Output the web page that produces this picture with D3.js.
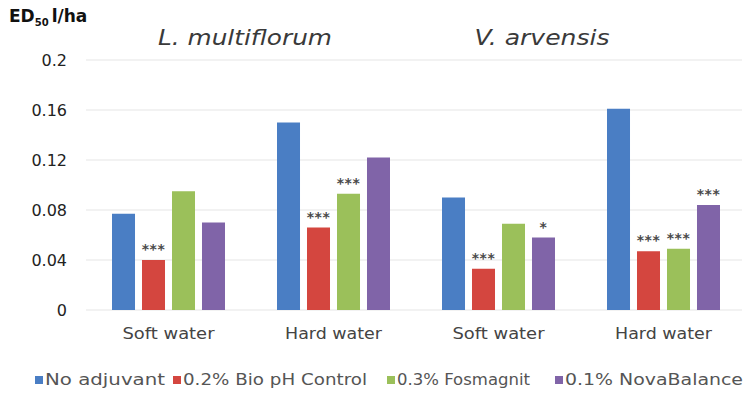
<!DOCTYPE html>
<html>
<head>
<meta charset="utf-8">
<script src="https://cdn.jsdelivr.net/npm/d3@7"></script>
<style>
  html, body { margin: 0; padding: 0; background: #fff; }
  svg { display: block; font-family: "DejaVu Sans", sans-serif; }
</style>
</head>
<body>
<svg id="chart" width="745" height="396"></svg>
<script>
// Groups along the x axis (species × water hardness)
const groups = ["L. multiflorum|Soft water", "L. multiflorum|Hard water", "V. arvensis|Soft water", "V. arvensis|Hard water"];
const groupLabels = ["Soft water", "Hard water", "Soft water", "Hard water"];
const species = ["L. multiflorum", "V. arvensis"];

// Adjuvant treatments
const series = ["No adjuvant", "0.2% Bio pH Control", "0.3% Fosmagnit", "0.1% NovaBalance"];
const colors = ["#4a7ec4", "#d4463f", "#9bc05a", "#8064a8"];

// ED50 values (l/ha), one array per treatment, in group order
const noAdjuvant   = [0.077, 0.150, 0.090, 0.161];
const bioPH        = [0.040, 0.066, 0.033, 0.047];
const fosmagnit    = [0.095, 0.093, 0.069, 0.049];
const novaBalance  = [0.070, 0.122, 0.058, 0.084];
const values = [noAdjuvant, bioPH, fosmagnit, novaBalance];

// Significance markers over each bar ("" = none)
const sigNoAdjuvant  = ["", "", "", ""];
const sigBioPH       = ["***", "***", "***", "***"];
const sigFosmagnit   = ["", "***", "", "***"];
const sigNovaBalance = ["", "", "*", "***"];
const signif = [sigNoAdjuvant, sigBioPH, sigFosmagnit, sigNovaBalance];

const yTicks = [0, 0.04, 0.08, 0.12, 0.16, 0.2];
const yTickLabels = ["0", "0.04", "0.08", "0.12", "0.16", "0.2"];

// Wide geometric lettering: stretch text runs to these widths
const speciesWidths = [174, 135];
const groupLabelWidths = [92, 97, 92, 97];
const legendWidths = [120, 184, 133, 178];

const svg = d3.select("#chart");

const x0 = d3.scaleBand().domain(groups).range([86, 746]).padding(0);
const x1 = d3.scaleBand().domain(series).range([26, 139]).paddingInner(0.233).paddingOuter(0);
const y = d3.scaleLinear().domain([0, 0.2]).range([310, 60]);

// Horizontal gridlines
svg.append("g")
  .selectAll("line")
  .data(yTicks)
  .join("line")
  .attr("x1", 86).attr("x2", 742)
  .attr("y1", d => y(d)).attr("y2", d => y(d))
  .attr("stroke", "#e6e6e6").attr("stroke-width", 1.2);

// Y axis tick labels
const yAxis = d3.axisLeft(y).tickValues(yTicks)
  .tickFormat((d, i) => yTickLabels[i]).tickSize(0).tickPadding(0);
const yg = svg.append("g").attr("transform", "translate(67,0)").call(yAxis);
yg.select(".domain").remove();
yg.selectAll("text")
  .attr("font-family", "DejaVu Sans, sans-serif")
  .attr("font-size", 16).attr("fill", "#222");

// Y axis title: ED50 l/ha
const yt = svg.append("text").attr("x", 9).attr("y", 22)
  .attr("font-size", 17).attr("font-weight", "bold").attr("fill", "#111");
yt.append("tspan").text("ED");
yt.append("tspan").attr("font-size", 10).attr("dy", 4).text("50");
yt.append("tspan").attr("dy", -4).attr("dx", 3).text("l/ha");

// Bars
const rows = [];
groups.forEach((g, gi) => {
  series.forEach((s, si) => {
    rows.push({ g, s, si, v: values[si][gi], sig: signif[si][gi] });
  });
});

const gBars = svg.append("g");
gBars.selectAll("rect")
  .data(rows)
  .join("rect")
  .attr("x", d => x0(d.g) + x1(d.s))
  .attr("width", x1.bandwidth())
  .attr("y", d => y(d.v))
  .attr("height", d => y(0) - y(d.v))
  .attr("fill", d => colors[d.si]);

// Significance stars
gBars.selectAll("text")
  .data(rows.filter(d => d.sig))
  .join("text")
  .attr("x", d => x0(d.g) + x1(d.s) + x1.bandwidth() / 2)
  .attr("y", d => y(d.v) - 6)
  .attr("text-anchor", "middle")
  .attr("font-size", 14)
  .attr("font-weight", "bold")
  .attr("letter-spacing", 0.5)
  .attr("fill", "#4a4a4a")
  .text(d => d.sig);

// Group labels under the bars
const xAxis = d3.axisBottom(x0).tickSize(0).tickPadding(0)
  .tickFormat((d, i) => groupLabels[i]);
const xg = svg.append("g").attr("transform", "translate(0,328)").call(xAxis);
xg.select(".domain").remove();
xg.selectAll("text")
  .attr("font-family", "DejaVu Sans, sans-serif")
  .attr("font-size", 15).attr("fill", "#444")
  .attr("dy", "0.71em")
  .attr("textLength", (d, i) => groupLabelWidths[i])
  .attr("lengthAdjust", "spacingAndGlyphs");

// Species titles
const titleX = [245, 542];
svg.append("g").selectAll("text")
  .data(species)
  .join("text")
  .attr("x", (d, i) => titleX[i] - speciesWidths[i] / 2)
  .attr("y", 45)
  .attr("font-size", 22)
  .attr("font-style", "italic")
  .attr("fill", "#3a3a3a")
  .attr("textLength", (d, i) => speciesWidths[i])
  .attr("lengthAdjust", "spacingAndGlyphs")
  .text(d => d);

// Legend
const legendX = [35, 173, 387, 555];
const lg = svg.append("g").selectAll("g")
  .data(series)
  .join("g")
  .attr("transform", (d, i) => `translate(${legendX[i]},380)`);
lg.append("rect").attr("x", 0).attr("y", -4).attr("width", 8).attr("height", 8)
  .attr("fill", (d, i) => colors[i]);
lg.append("text").attr("x", 10).attr("y", 0).attr("dy", "0.35em")
  .attr("font-size", 15).attr("fill", "#555")
  .attr("textLength", (d, i) => legendWidths[i])
  .attr("lengthAdjust", "spacingAndGlyphs")
  .text(d => d);
</script>
</body>
</html>
